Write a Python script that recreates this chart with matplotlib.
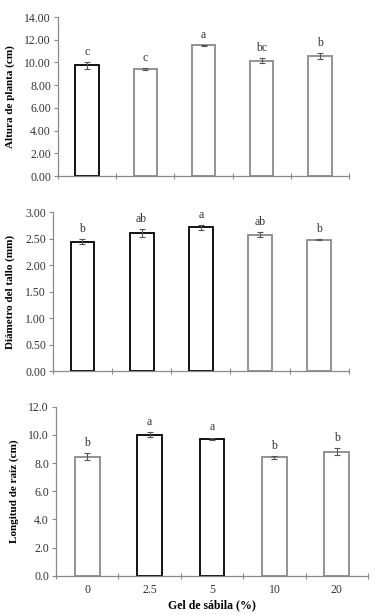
import matplotlib
matplotlib.use("Agg")
import matplotlib.pyplot as plt
import numpy as np

plt.rcParams['font.family'] = ['Liberation Serif', 'DejaVu Serif']

categories = ["0", "2.5", "5", "10", "20"]

altura = [9.74, 9.42, 11.53, 10.16, 10.57]
altura_err = [0.28, 0.10, 0.05, 0.22, 0.25]
altura_letters = ["c", "c", "a", "bc", "b"]

diametro = [2.44, 2.60, 2.71, 2.57, 2.48]
diametro_err = [0.05, 0.075, 0.05, 0.045, 0.01]
diametro_letters = ["b", "ab", "a", "ab", "b"]

raiz = [8.45, 10.01, 9.73, 8.40, 8.80]
raiz_err = [0.24, 0.17, 0.07, 0.10, 0.24]
raiz_letters = ["b", "a", "a", "b", "b"]

fig = plt.figure(figsize=(3.83, 6.15), dpi=100)
GRAY = "#8a8a8a"

panels = [
    dict(rect=[0.1514, 0.7138, 0.760, 0.2585], vals=altura, err=altura_err,
         let=altura_letters, ylim=(0, 14), yticks=np.arange(0, 14.01, 2),
         fmt="{:.2f}", ylabel="Altura de planta (cm)",
         edges=["black", GRAY, GRAY, GRAY, GRAY]),
    dict(rect=[0.138, 0.3967, 0.773, 0.2585], vals=diametro, err=diametro_err,
         let=diametro_letters, ylim=(0, 3), yticks=np.arange(0, 3.01, 0.5),
         fmt="{:.2f}", ylabel="Diámetro del tallo (mm)",
         edges=["black", "black", "black", GRAY, GRAY]),
    dict(rect=[0.146, 0.0639, 0.815, 0.2748], vals=raiz, err=raiz_err,
         let=raiz_letters, ylim=(0, 12), yticks=np.arange(0, 12.01, 2),
         fmt="{:.1f}", ylabel="Longitud de raíz (cm)",
         edges=[GRAY, "black", "black", GRAY, GRAY]),
]

x = np.arange(len(categories))
for i, p in enumerate(panels):
    ax = fig.add_axes(p["rect"])
    ax.bar(x, p["vals"], width=0.4, color="white", edgecolor=p["edges"],
           linewidth=1.3, zorder=2)
    ax.errorbar(x, p["vals"], yerr=p["err"], fmt="none", ecolor="#555555",
                elinewidth=0.8, capsize=2, capthick=0.8, zorder=3)
    span = p["ylim"][1]
    for xi, v, e, t in zip(x, p["vals"], p["err"], p["let"]):
        ax.text(xi, v + e + span * 0.025, t, ha="center", va="bottom",
                fontsize=8.5, color="#333333")
    ax.set_xlim(-0.5, len(categories) - 0.5)
    ax.set_ylim(*p["ylim"])
    ax.set_yticks(p["yticks"])
    ax.set_yticklabels([p["fmt"].format(v) for v in p["yticks"]], fontsize=8.5,
                       color="#333333")
    ax.set_xticks(np.arange(-0.5, len(categories)), minor=False)
    ax.set_xticklabels([])
    ax.tick_params(axis="x", direction="inout", length=5, width=0.8, color=GRAY)
    ax.tick_params(axis="y", direction="out", length=3, width=0.8, color=GRAY, pad=2)
    for s in ["top", "right"]:
        ax.spines[s].set_visible(False)
    for s in ["left", "bottom"]:
        ax.spines[s].set_color(GRAY)
        ax.spines[s].set_linewidth(0.9)
    ax.set_ylabel(p["ylabel"], fontsize=8, fontweight="bold", labelpad=7)
    if i == 2:
        ax.set_xticks(x, minor=True)
        ax.set_xticklabels(categories, minor=True, fontsize=8.5, color="#333333")
        ax.tick_params(axis="x", which="minor", length=0, pad=6)
        ax.set_xlabel("Gel de sábila (%)", fontsize=8.5, fontweight="bold", labelpad=2)

fig.savefig("out.png", dpi=100)
